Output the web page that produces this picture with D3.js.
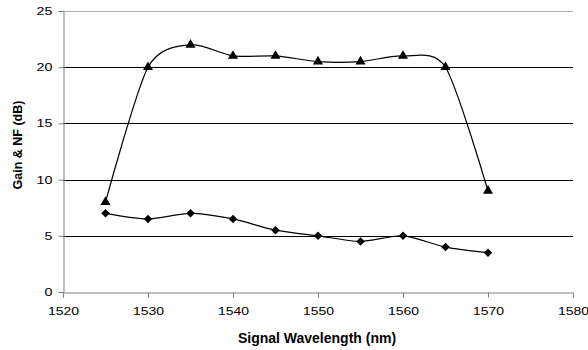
<!DOCTYPE html>
<html>
<head>
<meta charset="utf-8">
<script src="https://cdn.jsdelivr.net/npm/d3@7"></script>
<style>
  body { margin: 0; background: #fff; }
  text { font-family: "Liberation Sans", Arial, sans-serif; }
</style>
</head>
<body>
<div id="chart"></div>
<script>
// wavelength (nm)
const wavelengths = [1525, 1530, 1535, 1540, 1545, 1550, 1555, 1560, 1565, 1570];
// gain (dB), triangle markers
const gain = [8, 20, 22, 21, 21, 20.5, 20.5, 21, 20, 9];
// noise figure (dB), diamond markers
const noiseFigure = [7, 6.5, 7, 6.5, 5.5, 5, 4.5, 5, 4, 3.5];
const xTicks = [1520, 1530, 1540, 1550, 1560, 1570, 1580];
const yTicks = [0, 5, 10, 15, 20, 25];

const width = 588, height = 350;
const margin = { top: 11, right: 15, bottom: 58, left: 63 };

const svg = d3.select('#chart').append('svg')
    .attr('width', width)
    .attr('height', height);

const x = d3.scaleLinear().domain([1520, 1580]).range([margin.left, width - margin.right]);
const y = d3.scaleLinear().domain([0, 25]).range([height - margin.bottom, margin.top]);

// 가로 격자선
svg.append('g')
    .selectAll('line')
    .data(yTicks.filter(d => d > 0))
    .join('line')
    .attr('x1', x(1520))
    .attr('x2', x(1580))
    .attr('y1', d => Math.round(y(d)) + 0.5)
    .attr('y2', d => Math.round(y(d)) + 0.5)
    .attr('stroke', d => d === 25 ? '#aaa' : '#000')
    .attr('stroke-width', 1);

// y축
const yAxis = svg.append('g')
    .attr('transform', `translate(${Math.round(x(1520)) + 0.5},0)`)
    .call(d3.axisLeft(y).tickValues(yTicks).tickSize(5).tickPadding(4));
yAxis.select('.domain').attr('stroke', '#808080');
yAxis.selectAll('.tick line').attr('stroke', '#808080');
yAxis.selectAll('text')
    .attr('font-size', 11)
    .attr('fill', '#000')
    .attr('x', 0)
    .attr('transform', 'translate(-11,0) scale(1.3,1)');

// x축
const xAxis = svg.append('g')
    .attr('transform', `translate(0,${Math.round(y(0)) + 0.5})`)
    .call(d3.axisBottom(x).tickValues(xTicks).tickFormat(d3.format('d')).tickSize(5).tickPadding(10));
xAxis.select('.domain').attr('stroke', '#808080');
xAxis.selectAll('.tick line').attr('stroke', '#808080');
xAxis.selectAll('text')
    .attr('font-size', 11)
    .attr('fill', '#000')
    .attr('transform', 'scale(1.27,1)');

// 축 제목
svg.append('text')
    .attr('x', 317)
    .attr('y', 343)
    .attr('text-anchor', 'middle')
    .attr('font-size', 14)
    .attr('font-weight', 'bold')
    .text('Signal Wavelength (nm)');

svg.append('text')
    .attr('transform', 'translate(22,145) rotate(-90)')
    .attr('text-anchor', 'middle')
    .attr('font-size', 12.5)
    .attr('font-weight', 'bold')
    .text('Gain & NF (dB)');

// 부드러운 곡선
const line = d3.line()
    .x(d => x(d[0]))
    .y(d => y(d[1]))
    .curve(d3.curveCardinal.tension(0.2));

const gainPts = wavelengths.map((w, i) => [w, gain[i]]);
const nfPts = wavelengths.map((w, i) => [w, noiseFigure[i]]);

svg.append('path').datum(gainPts)
    .attr('fill', 'none').attr('stroke', '#000').attr('stroke-width', 1.2)
    .attr('d', line);
svg.append('path').datum(nfPts)
    .attr('fill', 'none').attr('stroke', '#000').attr('stroke-width', 1.2)
    .attr('d', line);

// 마커
const tri = d3.symbol().type(d3.symbolTriangle).size(44);
svg.append('g').selectAll('path')
    .data(gainPts)
    .join('path')
    .attr('d', tri)
    .attr('transform', d => `translate(${x(d[0])},${y(d[1])})`)
    .attr('fill', '#000');

const dia = d3.symbol().type(d3.symbolSquare).size(36);
svg.append('g').selectAll('path')
    .data(nfPts)
    .join('path')
    .attr('d', dia)
    .attr('transform', d => `translate(${x(d[0])},${y(d[1])}) rotate(45)`)
    .attr('fill', '#000');
</script>
</body>
</html>
